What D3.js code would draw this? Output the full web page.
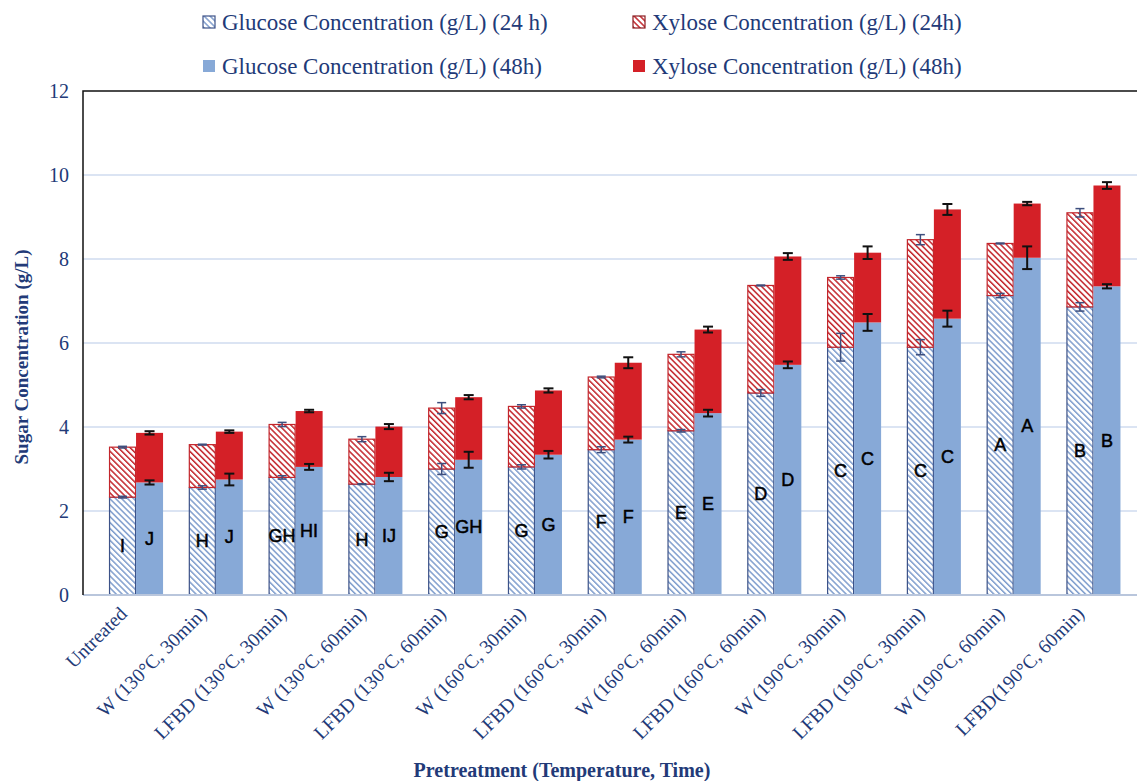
<!DOCTYPE html>
<html>
<head>
<meta charset="utf-8">
<script src="https://cdn.jsdelivr.net/npm/d3@7"></script>
<style>
  body { margin: 0; background: #fff; }
  svg { display: block; }
</style>
</head>
<body>
<div id="chart"></div>
<script>
const categories = [
    "Untreated", "W (130°C, 30min)", "LFBD (130°C, 30min)", "W (130°C, 60min)",
    "LFBD (130°C, 60min)", "W (160°C, 30min)", "LFBD (160°C, 30min)", "W (160°C, 60min)",
    "LFBD (160°C, 60min)", "W (190°C, 30min)", "LFBD (190°C, 30min)", "W (190°C, 60min)",
    "LFBD(190°C, 60min)"
];
const glucose24 = [2.33, 2.56, 2.80, 2.64, 3.00, 3.05, 3.46, 3.91, 4.81, 5.90, 5.90, 7.13, 6.86];
const xylose24 = [1.19, 1.02, 1.26, 1.07, 1.45, 1.44, 1.73, 1.82, 2.56, 1.66, 2.56, 1.24, 2.24];
const glucose48 = [2.68, 2.75, 3.05, 2.81, 3.22, 3.34, 3.70, 4.33, 5.48, 6.49, 6.58, 8.03, 7.35];
const xylose48 = [1.18, 1.14, 1.33, 1.20, 1.49, 1.53, 1.83, 1.99, 2.58, 1.66, 2.60, 1.29, 2.40];
const glucose24Err = [0.02, 0.04, 0.04, 0.01, 0.13, 0.05, 0.07, 0.03, 0.08, 0.33, 0.18, 0.05, 0.10];
const xylose24Err = [0.02, 0.01, 0.05, 0.06, 0.13, 0.04, 0.02, 0.06, 0.01, 0.04, 0.12, 0.01, 0.10];
const glucose48Err = [0.05, 0.14, 0.07, 0.10, 0.19, 0.09, 0.07, 0.08, 0.08, 0.20, 0.19, 0.27, 0.05];
const xylose48Err = [0.04, 0.03, 0.03, 0.06, 0.05, 0.05, 0.13, 0.07, 0.08, 0.15, 0.13, 0.04, 0.08];
const letters24 = ["I", "H", "GH", "H", "G", "G", "F", "E", "D", "C", "C", "A", "B"];
const letters48 = ["J", "J", "HI", "IJ", "GH", "G", "F", "E", "D", "C", "C", "A", "B"];
const yTicks = [0, 2, 4, 6, 8, 10, 12];
const legendLabels = [
    "Glucose Concentration (g/L) (24 h)", "Xylose Concentration (g/L) (24h)",
    "Glucose Concentration (g/L) (48h)", "Xylose Concentration (g/L) (48h)"
];

function drawChart(containerId) {
    const width = 1137, height = 781;
    const plot = { left: 83, top: 91, right: 1137, bottom: 595 };
    const navy = "#223a78";
    const serif = "'Liberation Serif', 'Times New Roman', serif";

    const svg = d3.select(`#${containerId}`)
        .append("svg")
        .attr("width", width)
        .attr("height", height);

    const defs = svg.append("defs");
    function stripes(id, color) {
        const p = defs.append("pattern")
            .attr("id", id)
            .attr("patternUnits", "userSpaceOnUse")
            .attr("width", 4.2)
            .attr("height", 4.2)
            .attr("patternTransform", "rotate(-45)");
        p.append("rect").attr("width", 4.2).attr("height", 4.2).attr("fill", "#fff");
        p.append("rect").attr("width", 1.5).attr("height", 4.2).attr("fill", color);
    }
    stripes("hatchBlue", "#7f9dcd");
    stripes("hatchRed", "#c3262c");

    const series = [
        { key: "g24", fill: "url(#hatchBlue)", stroke: "#3c5288", errColor: "#3d4f7e" },
        { key: "x24", fill: "url(#hatchRed)", stroke: "#c3262c", errColor: "#3d4f7e" },
        { key: "g48", fill: "#87a9d7", stroke: "none", errColor: "#111" },
        { key: "x48", fill: "#d42027", stroke: "none", errColor: "#111" }
    ];

    const x = d3.scaleBand()
        .domain(categories)
        .range([96.15, 1133.35])
        .paddingInner(0.323)
        .paddingOuter(0.1615);
    const xSub = d3.scaleBand()
        .domain(["24h", "48h"])
        .range([0, x.bandwidth()]);
    const y = d3.scaleLinear().domain([0, 12]).range([plot.bottom, plot.top]);

    // gridlines
    svg.append("g")
        .selectAll("line")
        .data(yTicks.filter(d => d > 0 && d < 12))
        .enter()
        .append("line")
        .attr("x1", plot.left).attr("x2", plot.right)
        .attr("y1", d => y(d)).attr("y2", d => y(d))
        .attr("stroke", "#cfdbef")
        .attr("stroke-width", 1.5);

    // build stacked rows per category
    const rows = categories.map((c, i) => ({
        cat: c,
        segs: [
            { s: series[0], sub: "24h", y0: 0, y1: glucose24[i], err: glucose24Err[i] },
            { s: series[1], sub: "24h", y0: glucose24[i], y1: glucose24[i] + xylose24[i], err: xylose24Err[i] },
            { s: series[2], sub: "48h", y0: 0, y1: glucose48[i], err: glucose48Err[i] },
            { s: series[3], sub: "48h", y0: glucose48[i], y1: glucose48[i] + xylose48[i], err: xylose48Err[i] }
        ],
        letters: [
            { sub: "24h", text: letters24[i], v: glucose24[i] / 2 },
            { sub: "48h", text: letters48[i], v: glucose48[i] / 2 }
        ]
    }));

    const groups = svg.append("g")
        .selectAll("g")
        .data(rows)
        .enter()
        .append("g")
        .attr("transform", d => `translate(${x(d.cat)},0)`);

    groups.selectAll("rect")
        .data(d => d.segs)
        .enter()
        .append("rect")
        .attr("x", d => xSub(d.sub) + (d.s.stroke === "none" ? 0 : 0.5))
        .attr("width", d => xSub.bandwidth() - (d.s.stroke === "none" ? 0 : 1))
        .attr("y", d => y(d.y1))
        .attr("height", d => y(d.y0) - y(d.y1))
        .attr("fill", d => d.s.fill)
        .attr("stroke", d => d.s.stroke)
        .attr("stroke-width", 1.2);

    // error bars
    const eb = groups.selectAll("g.err")
        .data(d => d.segs)
        .enter()
        .append("g")
        .attr("class", "err")
        .attr("stroke", d => d.s.errColor)
        .attr("stroke-width", d => d.sub === "48h" ? 2 : 1.5);
    eb.append("line")
        .attr("x1", d => xSub(d.sub) + xSub.bandwidth() / 2)
        .attr("x2", d => xSub(d.sub) + xSub.bandwidth() / 2)
        .attr("y1", d => y(d.y1 - d.err))
        .attr("y2", d => y(d.y1 + d.err));
    [-1, 1].forEach(sign => {
        eb.append("line")
            .attr("x1", d => xSub(d.sub) + xSub.bandwidth() / 2 - (d.sub === "48h" ? 5 : 4.5))
            .attr("x2", d => xSub(d.sub) + xSub.bandwidth() / 2 + (d.sub === "48h" ? 5 : 4.5))
            .attr("y1", d => y(d.y1 + sign * d.err))
            .attr("y2", d => y(d.y1 + sign * d.err));
    });

    // significance letters
    groups.selectAll("text")
        .data(d => d.letters)
        .enter()
        .append("text")
        .attr("x", d => xSub(d.sub) + xSub.bandwidth() / 2)
        .attr("y", d => y(d.v))
        .attr("text-anchor", "middle")
        .attr("dominant-baseline", "central")
        .attr("font-family", "'Liberation Sans', Arial, sans-serif")
        .attr("font-size", "18px")
        .attr("fill", "#000")
        .attr("stroke", "#000")
        .attr("stroke-width", 0.5)
        .text(d => d.text);

    // axes and frame
    svg.append("line")
        .attr("x1", plot.left).attr("x2", plot.right)
        .attr("y1", plot.bottom).attr("y2", plot.bottom)
        .attr("stroke", "#b9c6dc").attr("stroke-width", 2);
    svg.append("path")
        .attr("d", `M${plot.left},${plot.bottom}V${plot.top}H${plot.right}`)
        .attr("fill", "none")
        .attr("stroke", "#111")
        .attr("stroke-width", 1.5);

    const yAxis = svg.append("g")
        .attr("transform", `translate(${plot.left},0)`)
        .call(d3.axisLeft(y).tickValues(yTicks).tickSize(0).tickPadding(14));
    yAxis.select(".domain").remove();
    yAxis.selectAll("text")
        .attr("font-family", serif)
        .attr("font-size", "20px")
        .attr("fill", navy);

    const xAxis = svg.append("g")
        .attr("transform", `translate(0,${plot.bottom})`)
        .call(d3.axisBottom(x).tickSize(0).tickFormat(""));
    xAxis.select(".domain").remove();
    xAxis.selectAll(".tick")
        .append("text")
        .attr("transform", "translate(-8,20) rotate(-45)")
        .attr("text-anchor", "end")
        .attr("font-family", serif)
        .attr("font-size", "19.5px")
        .attr("fill", navy)
        .text(d => d);

    svg.append("text")
        .attr("transform", "translate(28,357) rotate(-90)")
        .attr("text-anchor", "middle")
        .attr("font-family", serif)
        .attr("font-weight", "bold")
        .attr("font-size", "19px")
        .attr("fill", navy)
        .text("Sugar Concentration (g/L)");

    svg.append("text")
        .attr("x", 562)
        .attr("y", 777)
        .attr("text-anchor", "middle")
        .attr("font-family", serif)
        .attr("font-weight", "bold")
        .attr("font-size", "20px")
        .attr("fill", navy)
        .text("Pretreatment (Temperature, Time)");

    // legend
    const legendPos = [[203, 22], [633, 22], [203, 66], [633, 66]];
    const legend = svg.append("g")
        .selectAll("g")
        .data(series)
        .enter()
        .append("g")
        .attr("transform", (d, i) => `translate(${legendPos[i][0]},${legendPos[i][1]})`);
    legend.append("rect")
        .attr("x", 0).attr("y", -6)
        .attr("width", 12).attr("height", 12)
        .attr("fill", d => d.fill)
        .attr("stroke", d => d.stroke === "none" ? "none" : (d.key === "g24" ? "#3c5288" : "#8a1a1e"))
        .attr("stroke-width", 1.2);
    legend.append("text")
        .attr("x", 19)
        .attr("y", 0)
        .attr("dominant-baseline", "central")
        .attr("font-family", serif)
        .attr("font-size", "23px")
        .attr("fill", navy)
        .text((d, i) => legendLabels[i]);
}

drawChart("chart");
</script>
</body>
</html>
